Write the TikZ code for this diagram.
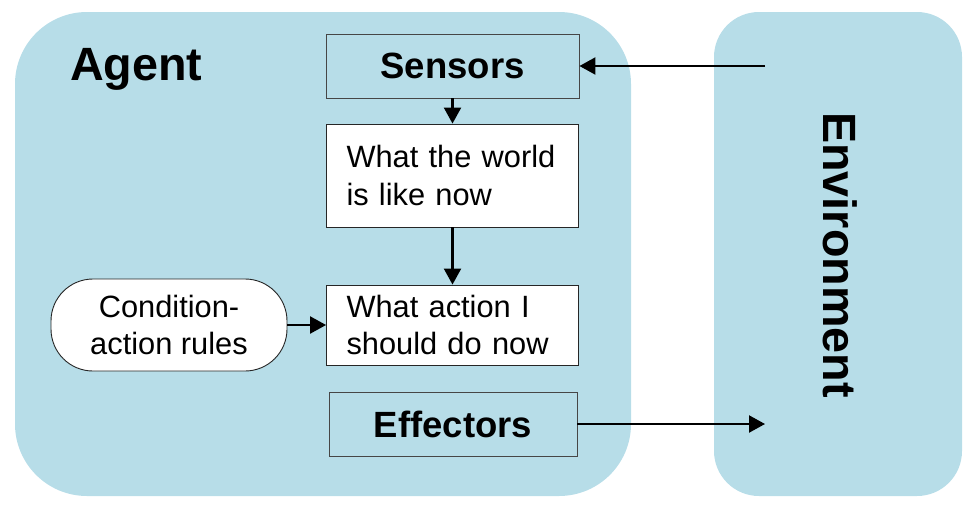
\documentclass[tikz,border=0pt]{standalone}
\usepackage{fontspec}
\setmainfont{Liberation Sans}
\usetikzlibrary{arrows.meta}
\definecolor{panelblue}{RGB}{183,221,232}
\definecolor{boxedge}{RGB}{70,70,70}
\begin{document}
\begin{tikzpicture}[x=1pt,y=-1pt,
  panel/.style={fill=panelblue,draw=none},
  title/.style={font=\fontsize{46.7}{52}\selectfont\bfseries,inner sep=0pt},
  portbox/.style={draw=boxedge,fill=panelblue,line width=0.9pt,inner sep=0pt,
    font=\fontsize{36.5}{40}\selectfont\bfseries},
  statebox/.style={draw=black!85,fill=white,line width=0.9pt,inner xsep=20pt,inner ysep=0pt,
    text width=212pt,align=left,font=\fontsize{30.8}{37.5}\selectfont},
  rulebox/.style={draw=black!85,fill=white,line width=0.9pt,rounded corners=42pt,inner sep=0pt,
    minimum width=236pt,minimum height=92pt,align=center,font=\fontsize{30.8}{37.5}\selectfont},
  flow/.style={line width=2.2pt,-{Triangle[length=16pt,width=17pt]}}]
\useasboundingbox (0,0) rectangle (979,507);

% the two rounded panels
\fill[panel,rounded corners=72pt] (15,12) rectangle (631,496);
\fill[panel,rounded corners=45pt] (714,12) rectangle (962,496);

\node[title,anchor=base west] (agent) at (70,80) {Agent};
\node[title,rotate=-90] (env) at (840,255) {Environment};

% agent components
\node[portbox,minimum width=253pt,minimum height=64pt] (sensors) at (452.5,66) {Sensors};
\node[statebox,minimum height=103pt] (world) at (452.5,175.5) {What the world\\is like now};
\node[statebox,minimum height=80pt] (action) at (452.5,325) {What action I\\should do now};
\node[rulebox] (rules) at (169,325) {Condition-\\action rules};
\node[portbox,minimum width=248pt,minimum height=64pt] (effectors) at (453,424) {Effectors};

\coordinate (percept) at (765,66);
\coordinate (act) at (765,424);

% connectors
\draw[flow] (percept) -- (sensors.east);
\draw[flow] (sensors) -- (world);
\draw[flow] (world) -- (action);
\draw[flow] (rules) -- (action);
\draw[flow] (effectors.east) -- (act);
\end{tikzpicture}
\end{document}
